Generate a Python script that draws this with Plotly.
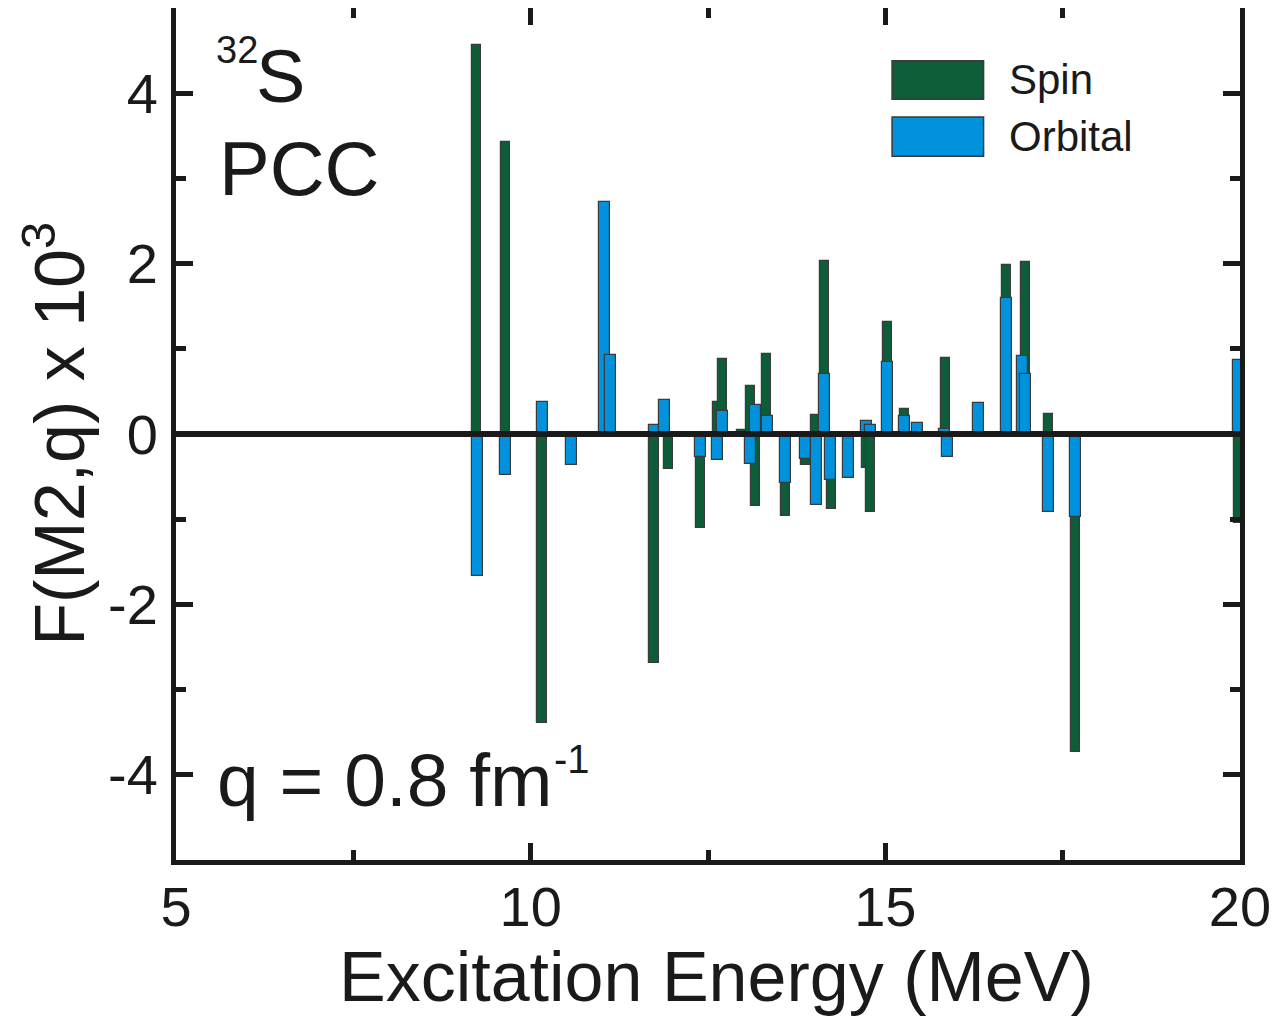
import plotly.graph_objects as go

# Data
spin_E = [9.24, 9.64, 10.16, 11.74, 11.94, 12.39, 12.63, 12.70, 12.98, 13.10, 13.17, 13.33,
          13.59, 13.88, 14.02, 14.14, 14.24, 14.74, 14.79, 15.03, 15.27, 15.85, 16.71, 16.98,
          17.30, 17.68, 19.98]
spin_F = [4.57, 3.43, -3.39, -2.69, -0.41, -1.10, 0.38, 0.88, 0.05, 0.56, -0.85, 0.94,
          -0.96, -0.36, 0.22, 2.03, -0.88, -0.40, -0.92, 1.31, 0.29, 0.89, 1.98, 2.02,
          0.23, -3.73, -1.05]

orb_E = [9.25, 9.65, 10.16, 10.57, 11.04, 11.13, 11.74, 11.89, 12.39, 12.63, 12.70, 13.10,
         13.17, 13.34, 13.59, 13.88, 14.03, 14.14, 14.23, 14.48, 14.74, 14.79, 15.03, 15.27,
         15.46, 15.84, 15.88, 16.31, 16.71, 16.94, 16.98, 17.30, 17.68, 19.98]
orb_F = [-1.67, -0.48, 0.375, -0.36, 2.72, 0.93, 0.10, 0.40, -0.27, -0.31, 0.27, -0.35,
         0.34, 0.21, -0.58, -0.29, -0.83, 0.71, -0.54, -0.52, 0.15, 0.11, 0.84, 0.21,
         0.13, 0.06, -0.27, 0.36, 1.60, 0.92, 0.70, -0.91, -0.97, 0.87]

x_ticks = [5, 10, 15, 20]
x_ticktext = ["5", "10", "15", "20"]
y_ticks = [-4, -2, 0, 2, 4]
y_ticktext = ["-4", "-2", "0", "2", "4"]

GREEN = "#0d5e38"
BLUE = "#0092dc"
EDGE = "#3a3a3a"
INK = "#1a1a1a"
FONT = "Liberation Sans, Arial, sans-serif"

fig = go.Figure()
fig.add_trace(go.Bar(x=spin_E, y=spin_F, width=0.13, name="Spin",
                     marker=dict(color=GREEN, line=dict(color=EDGE, width=1.2))))
fig.add_trace(go.Bar(x=orb_E, y=orb_F, width=0.155, name="Orbital",
                     marker=dict(color=BLUE, line=dict(color=EDGE, width=1.2))))

axis_common = dict(showline=True, linewidth=5, linecolor=INK, mirror="ticks",
                   ticks="inside", ticklen=17, tickwidth=5, tickcolor=INK,
                   showgrid=False, zeroline=False,
                   tickfont=dict(family=FONT, size=56, color=INK))

fig.update_xaxes(range=[5, 20], tickmode="array", tickvals=x_ticks, ticktext=x_ticktext,
                 ticklabelstandoff=-6,
                 minor=dict(ticks="inside", ticklen=10, tickwidth=5, tickcolor=INK, dtick=2.5,
                            showgrid=False),
                 **axis_common)
fig.update_yaxes(range=[-5, 5], tickmode="array", tickvals=y_ticks, ticktext=y_ticktext,
                 ticklabelstandoff=2,
                 minor=dict(ticks="inside", ticklen=10, tickwidth=5, tickcolor=INK, dtick=1,
                            tick0=1, showgrid=False),
                 **axis_common)

shapes = [
    dict(type="line", xref="paper", yref="y", x0=0, x1=1, y0=0, y1=0,
         line=dict(color=INK, width=6), layer="above"),
    dict(type="rect", xref="paper", yref="paper", x0=0.673, x1=0.759, y0=0.893, y1=0.938,
         fillcolor=GREEN, line=dict(color=EDGE, width=1.5)),
    dict(type="rect", xref="paper", yref="paper", x0=0.673, x1=0.759, y0=0.826, y1=0.872,
         fillcolor=BLUE, line=dict(color=EDGE, width=1.5)),
]


def txt(text, x, y, size, xanchor="left", **kw):
    return dict(text=text, x=x, y=y, xref="paper", yref="paper", xanchor=xanchor,
                yanchor="middle", showarrow=False,
                font=dict(family=FONT, size=size, color=INK), **kw)


ann = [
    txt("Spin", 0.781, 0.9155, 42),
    txt("Orbital", 0.781, 0.8486, 42),
    txt("32", 0.036, 0.951, 38),
    txt("S", 0.0735, 0.9196, 74),
    txt("PCC", 0.039, 0.812, 76),
    txt("q = 0.8 fm", 0.037, 0.094, 75),
    txt("-1", 0.353, 0.1185, 40),
    txt("Excitation Energy (MeV)", 0.508, -0.137, 70, xanchor="center"),
    txt("F(M2,q) x 10<sup>3</sup>", -0.114, 0.5, 70, xanchor="center", textangle=-90),
]

fig.update_layout(width=1281, height=1023, barmode="overlay", showlegend=False,
                  plot_bgcolor="white", paper_bgcolor="white",
                  margin=dict(l=168, r=49, t=0, b=171, autoexpand=False),
                  shapes=shapes, annotations=ann, bargap=0)

fig.write_html("out.html")
